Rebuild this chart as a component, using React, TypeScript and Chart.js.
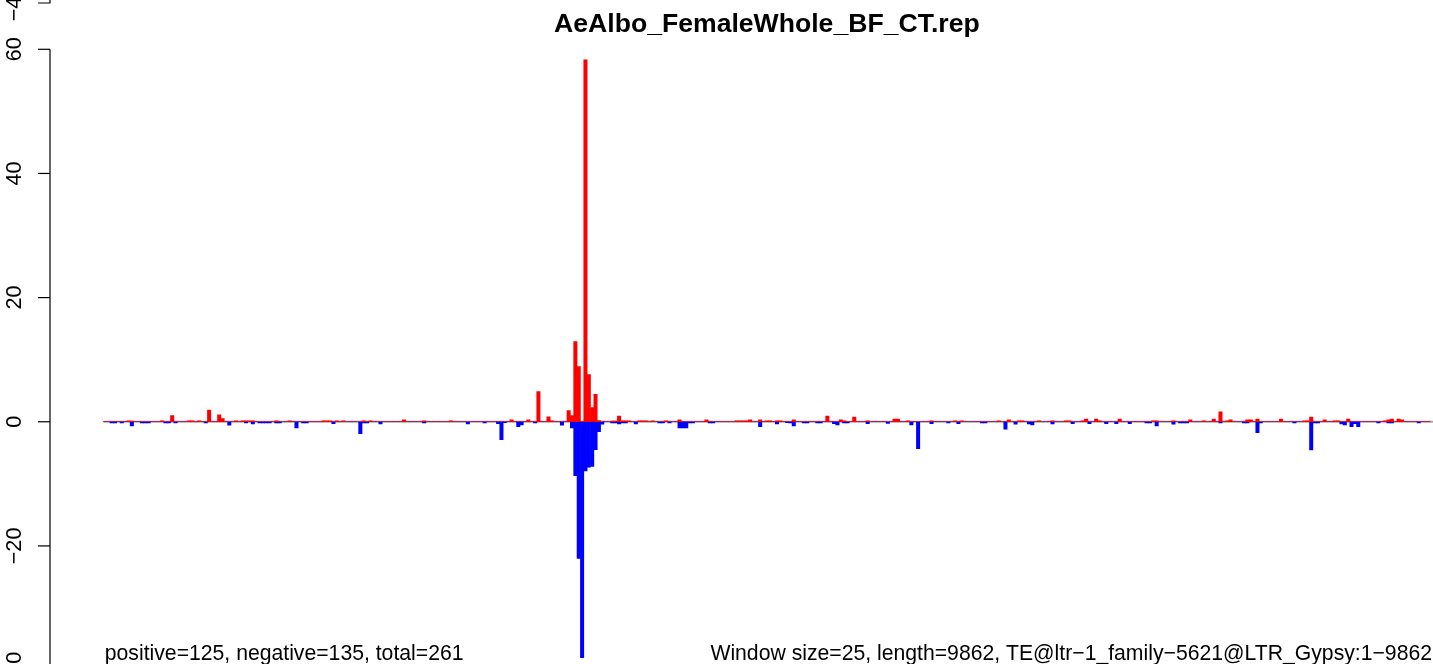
import React, { useEffect, useRef } from "react";
import { Chart, registerables } from "chart.js";

Chart.register(...registerables);

// ---------------- data ----------------
const TITLE = "AeAlbo_FemaleWhole_BF_CT.rep";
const WINDOW_SIZE = 25;
const SEQ_LENGTH = 9862;
const N_WINDOWS = Math.ceil(SEQ_LENGTH / WINDOW_SIZE); // 395 windows

// category labels: start position of each window
const categories: string[] = Array.from({ length: N_WINDOWS }, (_, i) => String(i * WINDOW_SIZE + 1));

// positive (red) strand: window index -> value
const positiveBins = [
  7, 8, 17, 20, 25, 26, 28, 31, 34, 35, 39, 41, 42, 43, 44, 51, 55, 65, 66, 67, 69, 71, 77, 79, 89, 95,
  103, 121, 126, 129, 132, 133, 138, 139, 140, 141, 143, 144, 145, 146, 147, 151, 152, 153, 154, 155,
  156, 159, 160, 161, 163, 167, 171, 179, 188, 189, 190, 191, 192, 195, 197, 198, 200, 201, 205, 215,
  219, 220, 223, 227, 235, 236, 239, 246, 253, 255, 266, 269, 272, 273, 278, 282, 286, 287, 291, 292,
  295, 296, 302, 312, 313, 318, 323, 327, 330, 332, 334, 335, 340, 341, 343, 350, 357, 358, 359, 363,
  366, 367, 370, 381, 382, 383, 385, 386,
];
const positiveValues = [
  0.15, 0.1, 0.15, 1.0, 0.15, 0.15, 0.15, 1.9, 1.1, 0.5, 0.15, 0.15, 0.15, 0.15, 0.15, 0.15, 0.15, 0.15, 0.15, 0.15, 0.15, 0.15, 0.15, 0.15, 0.3, 0.15,
  0.15, 0.3, 0.3, 4.85, 0.8, 0.15, 1.8, 1.0, 12.9, 8.9, 58.3, 7.6, 2.3, 4.4, 0.2, 0.1, 0.1, 0.9, 0.15, 0.15,
  0.15, 0.15, 0.15, 0.15, 0.15, 0.15, 0.3, 0.3, 0.15, 0.15, 0.15, 0.15, 0.3, 0.3, 0.15, 0.15, 0.15, 0.15, 0.3, 0.9,
  0.3, 0.15, 0.75, 0.15, 0.45, 0.45, 0.15, 0.15, 0.15, 0.15, 0.15, 0.3, 0.15, 0.15, 0.15, 0.15, 0.15, 0.15, 0.15, 0.45,
  0.45, 0.15, 0.45, 0.15, 0.15, 0.15, 0.3, 0.15, 0.45, 1.6, 0.15, 0.3, 0.3, 0.3, 0.45, 0.45, 0.15, 0.15, 0.75, 0.3,
  0.15, 0.15, 0.45, 0.15, 0.3, 0.45, 0.45, 0.3,
];

// negative (blue) strand: window index -> value
const negativeBins = [
  2, 3, 5, 8, 11, 12, 13, 18, 19, 21, 30, 37, 42, 44, 46, 47, 48, 49, 51, 52, 57, 59, 60, 68, 76, 77, 78,
  82, 95, 108, 113, 117, 118, 119, 123, 124, 128, 136, 139, 140, 141, 142, 143, 144, 145, 146, 147, 148,
  151, 152, 153, 154, 155, 158, 165, 166, 168, 171, 172, 173, 174, 175, 180, 181, 195, 200, 203, 204,
  205, 208, 209, 212, 213, 217, 218, 220, 221, 227, 233, 240, 242, 246, 251, 254, 261, 262, 268, 271,
  275, 276, 282, 288, 293, 298, 301, 305, 310, 311, 313, 318, 320, 321, 322, 332, 339, 340, 343, 344,
  354, 359, 360, 361, 368, 369, 371, 372, 373, 379, 382, 383, 391,
];
const negativeValues = [
  -0.2, -0.2, -0.2, -0.65, -0.2, -0.2, -0.2, -0.2, -0.2, -0.2, -0.2, -0.55, -0.2, -0.35, -0.2, -0.2, -0.2, -0.2, -0.2, -0.2, -1.0, -0.2, -0.2, -0.3, -1.9, -0.2, -0.2,
  -0.35, -0.2, -0.35, -0.2, -0.3, -2.9, -0.15, -0.8, -0.5, -0.2, -0.55, -1.0, -8.7, -22.0, -38.0, -7.9, -7.3, -7.2, -4.5, -1.6, -0.4,
  -0.2, -0.2, -0.35, -0.2, -0.2, -0.35, -0.2, -0.2, -0.2, -1.0, -1.0, -1.0, -0.2, -0.2, -0.2, -0.2, -0.8, -0.35, -0.15, -0.2,
  -0.65, -0.2, -0.2, -0.2, -0.2, -0.3, -0.5, -0.2, -0.2, -0.3, -0.25, -0.5, -4.35, -0.3, -0.2, -0.3, -0.2, -0.2, -1.2, -0.4,
  -0.35, -0.5, -0.35, -0.3, -0.3, -0.3, -0.3, -0.3, -0.2, -0.2, -0.65, -0.4, -0.2, -0.2, -0.2, -0.2, -0.2, -0.2, -1.75, -0.2,
  -0.2, -4.55, -0.2, -0.2, -0.35, -0.5, -0.8, -0.3, -0.8, -0.2, -0.2, -0.2, -0.2,
];

const yTicks = [60, 40, 20, 0, -20, -40];
const yTickLabels = ["60", "40", "20", "0", "\u221220", "\u221240"];
const prevPanelTickLabel = "\u221240";
const leftNote = "positive=125, negative=135, total=261";
const rightNote = "Window size=25, length=9862, TE@ltr\u22121_family\u22125621@LTR_Gypsy:1\u22129862";

// ---------------- layout / style ----------------
const W = 1433;
const H = 664;
const Y_MIN = -39.02;
const Y_MAX = 67.94;
const AXIS_X = 50;
const FONT = '"Liberation Sans", Arial, Helvetica, sans-serif';

function buildSeries(bins: number[], vals: number[]): number[] {
  const arr = new Array(N_WINDOWS).fill(0);
  bins.forEach((b, k) => {
    arr[b] = vals[k];
  });
  return arr;
}

const decorPlugin = {
  id: "decor",
  beforeDatasetsDraw(chart: any) {
    const { ctx, chartArea } = chart;
    const y0 = chart.scales.y.getPixelForValue(0);
    ctx.save();
    ctx.strokeStyle = "#A9A9A9";
    ctx.lineWidth = 2;
    ctx.beginPath();
    ctx.moveTo(chartArea.left, y0);
    ctx.lineTo(chart.width, y0);
    ctx.stroke();
    ctx.restore();
  },
  afterDraw(chart: any) {
    const { ctx, chartArea } = chart;
    const ys = chart.scales.y;
    ctx.save();
    // y axis line + ticks
    ctx.strokeStyle = "#000";
    ctx.lineWidth = 1.2;
    ctx.beginPath();
    ctx.moveTo(AXIS_X, ys.getPixelForValue(yTicks[0]));
    ctx.lineTo(AXIS_X, ys.getPixelForValue(yTicks[yTicks.length - 1]));
    ctx.stroke();
    ctx.fillStyle = "#000";
    ctx.font = `21.6px ${FONT}`;
    ctx.textAlign = "center";
    ctx.textBaseline = "alphabetic";
    yTicks.forEach((t, i) => {
      const py = ys.getPixelForValue(t);
      ctx.beginPath();
      ctx.moveTo(38, py);
      ctx.lineTo(AXIS_X, py);
      ctx.stroke();
      ctx.save();
      ctx.translate(21, py);
      ctx.rotate(-Math.PI / 2);
      ctx.fillText(yTickLabels[i], 0, 0);
      ctx.restore();
    });
    // bottom end of the panel above (cut off)
    const prevY = 3;
    ctx.beginPath();
    ctx.moveTo(AXIS_X, -10);
    ctx.lineTo(AXIS_X, prevY);
    ctx.lineTo(38, prevY);
    ctx.stroke();
    ctx.save();
    ctx.translate(21, prevY);
    ctx.rotate(-Math.PI / 2);
    ctx.fillText(prevPanelTickLabel, 0, 0);
    ctx.restore();

    // title centred over the plot region
    const regionRight = chartArea.right + (chartArea.left - AXIS_X);
    const cx = (AXIS_X + regionRight) / 2;
    ctx.font = `bold 26.6px ${FONT}`;
    ctx.textAlign = "center";
    ctx.fillText(TITLE, cx, 32);

    // bottom notes
    ctx.font = `21.2px ${FONT}`;
    ctx.textAlign = "left";
    ctx.fillText(leftNote, chartArea.left + 1.5, 660);
    ctx.textAlign = "right";
    ctx.fillText(rightNote, W - 1, 660);
    ctx.restore();
  },
};

export default function App() {
  const ref = useRef<HTMLCanvasElement | null>(null);
  useEffect(() => {
    if (!ref.current) return;
    const red = buildSeries(positiveBins, positiveValues);
    const blue = buildSeries(negativeBins, negativeValues);
    const chart = new Chart(ref.current, {
      type: "bar",
      data: {
        labels: categories,
        datasets: [
          {
            label: "positive",
            data: red,
            backgroundColor: "#FF0000",
            borderWidth: 0,
            barPercentage: 1,
            categoryPercentage: 1,
            grouped: false,
          } as any,
          {
            label: "negative",
            data: blue,
            backgroundColor: "#0000FF",
            borderWidth: 0,
            barPercentage: 1,
            categoryPercentage: 1,
            grouped: false,
          } as any,
        ],
      },
      options: {
        responsive: false,
        animation: false,
        devicePixelRatio: 1,
        layout: { padding: { left: 103.3, right: W - 1430.5, top: 0, bottom: 0 } },
        plugins: { legend: { display: false }, tooltip: { enabled: false }, title: { display: false } },
        scales: {
          x: { display: false, offset: true, grid: { display: false } },
          y: { display: false, min: Y_MIN, max: Y_MAX, grid: { display: false } },
        },
      },
      plugins: [decorPlugin],
    });
    return () => chart.destroy();
  }, []);
  return (
    <div style={{ position: "absolute", left: 0, top: 0, width: W, height: H, background: "#fff", overflow: "hidden" }}>
      <canvas ref={ref} width={W} height={H} style={{ display: "block" }} />
    </div>
  );
}
